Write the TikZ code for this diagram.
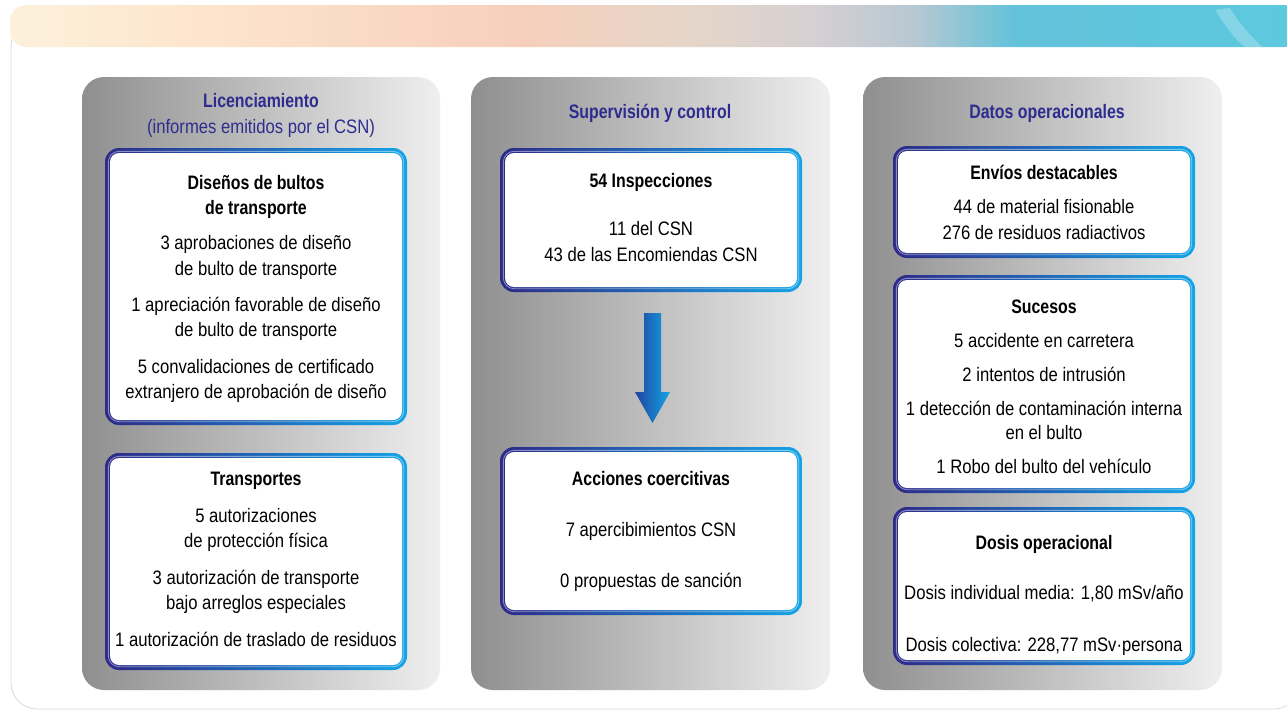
\documentclass[tikz,border=0pt]{standalone}
\usepackage{fontspec}
\setmainfont{Liberation Sans}[FakeStretch=0.855, BoldFeatures={FakeStretch=0.815}]
\usetikzlibrary{calc}
\definecolor{navyb}{HTML}{2D2A88}
\definecolor{midb}{HTML}{0A6CC0}
\definecolor{lightb}{HTML}{14A4E6}
\definecolor{ttl}{HTML}{2E2D8F}
\definecolor{gdark}{HTML}{8F8F8F}
\definecolor{gmid}{HTML}{D4D4D4}
\definecolor{glight}{HTML}{EFEFEF}
\definecolor{bA}{HTML}{FDF1DC}
\definecolor{bB}{HTML}{FDE4CA}
\definecolor{bC}{HTML}{F6CFBC}
\definecolor{bD}{HTML}{E6D6C8}
\definecolor{bE}{HTML}{D6D0D2}
\definecolor{bF}{HTML}{B8C8D2}
\definecolor{bG}{HTML}{62C2DA}
\definecolor{bH}{HTML}{5CC9DF}
\pgfdeclarehorizontalshading{banner}{100bp}{color(0bp)=(bA); color(25bp)=(bA); color(33bp)=(bB); color(45bp)=(bC); color(51bp)=(bD); color(56bp)=(bE); color(60bp)=(bF); color(64bp)=(bG); color(75bp)=(bH); color(100bp)=(bH)}
\newcommand\gbox[4]{%
  \shade[left color=navyb, middle color=midb, right color=lightb, rounded corners=14pt] (#1,#2) rectangle (#3,#4);
  \draw[white, opacity=.45, line width=0.9pt, rounded corners=11pt] ($(#1,#2)+(3.3,3.3)$) rectangle ($(#3,#4)+(-3.3,-3.3)$);
  \fill[white, rounded corners=9pt] ($(#1,#2)+(5,5)$) rectangle ($(#3,#4)+(-5,-5)$);
}
\tikzset{
  txt/.style={anchor=base, inner sep=0, font=\fontsize{19.5}{22}\selectfont, text=black},
  hdr/.style={txt, font=\fontsize{19.5}{22}\selectfont\bfseries},
  ptitle/.style={txt, font=\fontsize{19.5}{22}\selectfont\bfseries, text=ttl},
  psub/.style={txt, text=ttl},
  panel/.style={left color=gdark, middle color=gmid, right color=glight, rounded corners=22pt}
}
\begin{document}
\begin{tikzpicture}[x=1pt,y=-1pt]
\useasboundingbox (0,0) rectangle (1287,710);
\fill[white] (0,0) rectangle (1287,710);
% outer card
\draw[black!14, line width=0.8pt, rounded corners=26pt] (11,20) rectangle (1300,709);
% banner
\shade[shading=banner, rounded corners=16pt] (10,47) -- (10,5) -- (1300,5) -- (1300,47) -- cycle;
\fill[white, opacity=.25] (1215,10) .. controls (1225,25) and (1235,40) .. (1245,47) -- (1262,47) .. controls (1250,35) and (1238,22) .. (1230,8) -- cycle;
% panels
\shade[panel] (82,77) rectangle (440,690);
\shade[panel] (471,77) rectangle (830,690);
\shade[panel] (863,77) rectangle (1222,690);
% panel titles
\node[ptitle] (t1) at (261,107) {Licenciamiento};
\node[psub] (t1b) at (261,133) {(informes emitidos por el CSN)};
\node[ptitle] (t2) at (650,118) {Supervisión y control};
\node[ptitle] (t3) at (1047,118) {Datos operacionales};
% boxes
\gbox{105}{148}{407}{425}
\gbox{105}{453}{407}{670}
\gbox{500}{148}{802}{292}
\gbox{500}{447}{802}{615}
\gbox{893}{146}{1195}{258}
\gbox{893}{275}{1195}{493}
\gbox{893}{507}{1195}{665}
% arrow
\shade[left color=navyb!60!midb, right color=lightb] (644,313) -- (661,313) -- (661,392) -- (670,392) -- (652.5,423) -- (635,392) -- (644,392) -- cycle;
% box A
\node[hdr] (a1) at (256,189) {Diseños de bultos};
\node[hdr] (a2) at (256,214) {de transporte};
\node[txt] (a3) at (256,249) {3 aprobaciones de diseño};
\node[txt] (a4) at (256,275) {de bulto de transporte};
\node[txt] (a5) at (256,311) {1 apreciación favorable de diseño};
\node[txt] (a6) at (256,336) {de bulto de transporte};
\node[txt] (a7) at (256,373) {5 convalidaciones de certificado};
\node[txt] (a8) at (256,398) {extranjero de aprobación de diseño};
% box B
\node[hdr] (b1) at (256,485) {Transportes};
\node[txt] (b2) at (256,522) {5 autorizaciones};
\node[txt] (b3) at (256,547) {de protección física};
\node[txt] (b4) at (256,584) {3 autorización de transporte};
\node[txt] (b5) at (256,609) {bajo arreglos especiales};
\node[txt] (b6) at (256,646) {1 autorización de traslado de residuos};
% box C
\node[hdr] (c1) at (651,187) {54 Inspecciones};
\node[txt] (c2) at (651,235) {11 del CSN};
\node[txt] (c3) at (651,261) {43 de las Encomiendas CSN};
% box D
\node[hdr] (d1) at (651,485) {Acciones coercitivas};
\node[txt] (d2) at (651,536) {7 apercibimientos CSN};
\node[txt] (d3) at (651,587) {0 propuestas de sanción};
% box E
\node[hdr] (e1) at (1044,179) {Envíos destacables};
\node[txt] (e2) at (1044,213) {44 de material fisionable};
\node[txt] (e3) at (1044,239) {276 de residuos radiactivos};
% box F
\node[hdr] (f1) at (1044,313) {Sucesos};
\node[txt] (f2) at (1044,347) {5 accidente en carretera};
\node[txt] (f3) at (1044,381) {2 intentos de intrusión};
\node[txt] (f4) at (1044,415) {1 detección de contaminación interna};
\node[txt] (f5) at (1044,439) {en el bulto};
\node[txt] (f6) at (1044,473) {1 Robo del bulto del vehículo};
% box G
\node[hdr] (g1) at (1044,549) {Dosis operacional};
\node[txt] (g2) at (1044,599) {Dosis individual media: 1,80 mSv/año};
\node[txt] (g3) at (1044,651) {Dosis colectiva: 228,77 mSv·persona};
\end{tikzpicture}
\end{document}
